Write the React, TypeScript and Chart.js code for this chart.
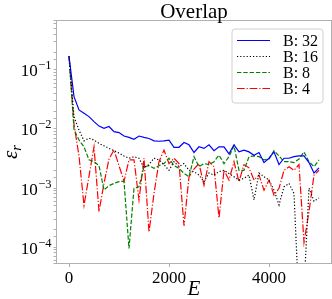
import React, { useEffect, useRef } from "react";
import { Chart, registerables } from "chart.js";

Chart.register(...registerables);

const SERIF = "'Liberation Serif', 'DejaVu Serif', serif";

const TITLE = "Overlap";
const X_TITLE = "E";
const Y_TITLE_MAIN = "ε";
const Y_TITLE_SUB = "r";

const epochs = [
  0, 100, 200, 300, 400, 500, 600, 700, 800, 900,
  1000, 1100, 1200, 1300, 1400, 1500, 1600, 1700, 1800, 1900,
  2000, 2100, 2200, 2300, 2400, 2500, 2600, 2700, 2800, 2900,
  3000, 3100, 3200, 3300, 3400, 3500, 3600, 3700, 3800, 3900,
  4000, 4100, 4200, 4300, 4400, 4500, 4600, 4700, 4800, 4900, 5000,
];

const b32 = [
  0.17, 0.0353, 0.021, 0.0185, 0.0162, 0.0133, 0.0112, 0.0103, 0.011, 0.009,
  0.0087, 0.0076, 0.0072, 0.0067, 0.0076, 0.0072, 0.0069, 0.0063, 0.0062, 0.0063,
  0.0065, 0.0049, 0.0049, 0.0059, 0.0054, 0.004, 0.005, 0.0047, 0.0054, 0.0043,
  0.005, 0.005, 0.0038, 0.0054, 0.0041, 0.0044, 0.0041, 0.0036, 0.004, 0.0027,
  0.0032, 0.0041, 0.0025, 0.0032, 0.0032, 0.0034, 0.0035, 0.0035, 0.0027, 0.0018, 0.0022,
];

const b16 = [
  0.17, 0.0162, 0.0096, 0.0063, 0.007, 0.0065, 0.0057, 0.0052, 0.0047, 0.0043,
  0.0039, 0.0035, 0.0032, 0.0034, 0.0032, 0.0022, 0.0025, 0.0032, 0.003, 0.0025,
  0.002, 0.0028, 0.0023, 0.0026, 0.002, 0.0019, 0.00166, 0.00128, 0.0018, 0.00166,
  0.0019, 0.002, 0.00177, 0.00156, 0.00137, 0.00146, 0.00166, 0.00063, 0.0018, 0.00156,
  0.00137, 0.00092, 0.00052, 0.00105, 0.0012, 0.00081, 0.00001, 0.00002, 0.001, 0.0006, 0.00068,
];

const b8 = [
  0.17, 0.0098, 0.0065, 0.005, 0.003, 0.0028, 0.0024, 0.00093, 0.0011, 0.0012,
  0.00129, 0.0013, 0.000095, 0.00099, 0.00105, 0.0023, 0.0024, 0.00216, 0.0024, 0.0026,
  0.0032, 0.0024, 0.00216, 0.00178, 0.00156, 0.0034, 0.0023, 0.0026, 0.0025, 0.0028,
  0.0036, 0.0026, 0.0034, 0.0052, 0.002, 0.002, 0.0034, 0.0035, 0.0034, 0.003,
  0.0031, 0.0043, 0.0035, 0.0028, 0.0028, 0.0027, 0.0031, 0.0041, 0.0028, 0.0023, 0.003,
];

const b4 = [
  0.17, 0.012, 0.0035, 0.00051, 0.0016, 0.005, 0.0004, 0.0012, 0.0031, 0.0044,
  0.0024, 0.0013, 0.003, 0.003, 0.00063, 0.0032, 0.00018, 0.00081, 0.0028, 0.0044,
  0.0026, 0.0032, 0.0026, 0.00023, 0.00155, 0.0021, 0.0026, 0.00112, 0.0028, 0.0023,
  0.00031, 0.002, 0.00137, 0.0028, 0.00128, 0.0025, 0.0022, 0.00137, 0.00166, 0.00092,
  0.00137, 0.00076, 0.00099, 0.002, 0.0023, 0.002, 0.0025, 0.00012, 0.0004, 0.00166, 0.002,
];

const seriesLabels = ["B: 32", "B: 16", "B: 8", "B: 4"];
const seriesValues = [b32, b16, b8, b4];
const seriesColors = ["#0000ff", "#000000", "#008000", "#ff0000"];
const seriesDashes: number[][] = [[], [1.2, 2], [4.4, 1.9], [7.7, 1.9, 1.2, 1.9]];

const xTicks = [0, 2000, 4000];
const xTickLabels = ["0", "2000", "4000"];
const yMajorTicks = [1e-4, 1e-3, 1e-2, 1e-1];
const yTickBase = "10";
const yTickExps = ["−4", "−3", "−2", "−1"];

const X_MIN = -250;
const X_MAX = 5250;
const Y_MIN = 5.3e-5;
const Y_MAX = 0.685;

const FRAME = "#b0b0b0";

const decorPlugin = {
  id: "decor",
  afterDraw(chart: any) {
    const { ctx, chartArea: a } = chart;
    ctx.save();
    // frame
    ctx.strokeStyle = FRAME;
    ctx.lineWidth = 1;
    ctx.setLineDash([]);
    ctx.strokeRect(a.left, a.top, a.right - a.left, a.bottom - a.top);

    const cx = (a.left + a.right) / 2;
    ctx.fillStyle = "#000";
    ctx.textAlign = "center";
    ctx.textBaseline = "alphabetic";
    ctx.font = `21px ${SERIF}`;
    ctx.fillText(TITLE, cx, 17.5);

    ctx.font = `italic 21px ${SERIF}`;
    ctx.fillText(X_TITLE, cx, 295);

    // y tick labels: 10 with superscript exponent
    const ys = chart.scales.y;
    ctx.textAlign = "left";
    ctx.textBaseline = "alphabetic";
    yMajorTicks.forEach((v, i) => {
      const py = ys.getPixelForValue(v);
      ctx.font = `12.5px ${SERIF}`;
      const we = ctx.measureText(yTickExps[i]).width;
      ctx.font = `17px ${SERIF}`;
      const wb = ctx.measureText(yTickBase).width;
      const right = a.left - 5;
      const x0 = right - we - wb - 0.5;
      ctx.fillText(yTickBase, x0, py + 6.5);
      ctx.font = `12.5px ${SERIF}`;
      ctx.fillText(yTickExps[i], x0 + wb + 0.5, py - 0.5);
    });

    // y title rotated
    ctx.save();
    ctx.translate(17, 152);
    ctx.rotate(-Math.PI / 2);
    ctx.textAlign = "left";
    ctx.font = `italic 21px ${SERIF}`;
    const w = ctx.measureText(Y_TITLE_MAIN).width;
    ctx.font = `italic 15px ${SERIF}`;
    const ws = ctx.measureText(Y_TITLE_SUB).width;
    const start = -(w + ws) / 2;
    ctx.font = `italic 21px ${SERIF}`;
    ctx.fillText(Y_TITLE_MAIN, start, 0);
    ctx.font = `italic 15px ${SERIF}`;
    ctx.fillText(Y_TITLE_SUB, start + w, 4);
    ctx.restore();

    // legend
    const lx = a.right - 99.5;
    const ly = a.top + 8.5;
    const lw = 91;
    const lh = 74;
    ctx.beginPath();
    ctx.roundRect(lx, ly, lw, lh, 3);
    ctx.fillStyle = "rgba(255,255,255,0.8)";
    ctx.fill();
    ctx.strokeStyle = "#d0d0d0";
    ctx.lineWidth = 1;
    ctx.stroke();
    ctx.font = `16px ${SERIF}`;
    ctx.textAlign = "left";
    ctx.textBaseline = "middle";
    chart.data.datasets.forEach((ds: any, i: number) => {
      const y = ly + 11.5 + i * 16;
      ctx.beginPath();
      ctx.setLineDash(ds.borderDash || []);
      ctx.strokeStyle = ds.borderColor;
      ctx.lineWidth = ds.borderWidth;
      ctx.moveTo(lx + 5, y);
      ctx.lineTo(lx + 38, y);
      ctx.stroke();
      ctx.setLineDash([]);
      ctx.fillStyle = "#000";
      ctx.fillText(ds.label, lx + 51, y + 1);
    });
    ctx.restore();
  },
};

export default function App() {
  const ref = useRef<HTMLCanvasElement | null>(null);

  useEffect(() => {
    document.body.style.margin = "0";
    const canvas = ref.current;
    if (!canvas) return;
    const chart = new Chart(canvas, {
      type: "line",
      data: {
        datasets: seriesLabels.map((label, i) => ({
          label,
          data: epochs.map((e, j) => ({ x: e, y: seriesValues[i][j] })),
          borderColor: seriesColors[i],
          backgroundColor: seriesColors[i],
          borderWidth: 1.2,
          borderDash: seriesDashes[i],
          pointRadius: 0,
          tension: 0,
          fill: false,
        })),
      },
      options: {
        animation: false,
        responsive: false,
        maintainAspectRatio: false,
        devicePixelRatio: 1,
        layout: { padding: { top: 20.5, right: 0.5, left: 0, bottom: 0 } },
        plugins: {
          legend: { display: false },
          title: { display: false },
          tooltip: { enabled: false },
        },
        scales: {
          x: {
            type: "linear",
            min: X_MIN,
            max: X_MAX,
            afterBuildTicks: (s: any) => {
              s.ticks = xTicks.map((v) => ({ value: v }));
            },
            afterFit: (s: any) => {
              s.height = 35.5;
            },
            border: { display: false },
            grid: {
              display: true,
              drawOnChartArea: false,
              drawTicks: true,
              tickLength: 3.5,
              color: FRAME,
            },
            ticks: {
              autoSkip: false,
              maxRotation: 0,
              padding: 1,
              color: "#000",
              font: { family: SERIF, size: 17 },
              callback: (v: any) => {
                const i = xTicks.indexOf(Number(v));
                return i >= 0 ? xTickLabels[i] : "";
              },
            },
          },
          y: {
            type: "logarithmic",
            min: Y_MIN,
            max: Y_MAX,
            afterFit: (s: any) => {
              s.width = 56.5;
            },
            border: { display: false },
            grid: {
              display: true,
              drawOnChartArea: false,
              drawTicks: true,
              tickLength: 3,
              color: FRAME,
            },
            ticks: {
              autoSkip: false,
              padding: 2,
              color: "#000",
              font: { family: SERIF, size: 17 },
              callback: () => "",
            },
          },
        },
      },
      plugins: [decorPlugin],
    } as any);
    return () => chart.destroy();
  }, []);

  return (
    <div style={{ position: "fixed", left: 0, top: 0, width: 332, height: 299, background: "#fff" }}>
      <canvas ref={ref} width={332} height={299} style={{ display: "block", width: 332, height: 299 }} />
    </div>
  );
}
